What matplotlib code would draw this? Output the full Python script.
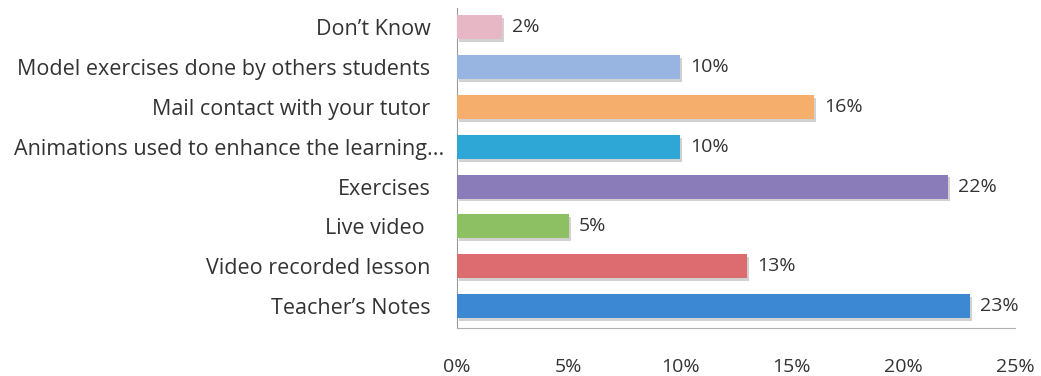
import matplotlib
matplotlib.use("Agg")
import matplotlib.pyplot as plt
import matplotlib.patheffects as pe
import matplotlib.transforms as mtransforms
from matplotlib.ticker import FuncFormatter

categories = [
    "Don\u2019t Know",
    "Model exercises done by others students",
    "Mail contact with your tutor",
    "Animations used to enhance the learning...",
    "Exercises",
    "Live video ",
    "Video recorded lesson",
    "Teacher\u2019s Notes",
]
values = [2, 10, 16, 10, 22, 5, 13, 23]
colors = ["#E8B7C6", "#98B5E2", "#F6AE6C", "#2EA7D6",
          "#8A7BB9", "#8DC062", "#DC6C70", "#3D88D2"]
xticks = [0, 5, 10, 15, 20, 25]

plt.rcParams["font.family"] = ["Open Sans", "DejaVu Sans"]
TXT = "#333333"
FS = 14

fig = plt.figure(figsize=(10.41, 3.76), dpi=100)
ax = fig.add_axes([0.439, 0.128, 0.536, 0.852])

ypos = list(range(len(categories)))
bars = ax.barh(ypos, values, height=0.6, color=colors, zorder=3)
for b in bars:
    b.set_path_effects([
        pe.SimplePatchShadow(offset=(1.5, -2), shadow_rgbFace="#9a9a9a", alpha=0.45),
        pe.Normal(),
    ])

for y, v in zip(ypos, values):
    ax.text(v + 0.45, y, f"{v}%", va="center", ha="left",
            fontsize=FS, color=TXT)

ax.set_xlim(0, 25)
ax.set_ylim(len(categories) - 0.45, -0.5)
ax.set_yticks(ypos)
ax.set_yticklabels(categories, fontsize=15.5, color=TXT)
ax.set_xticks(xticks)
ax.xaxis.set_major_formatter(FuncFormatter(lambda v, p: f"{v:.0f}%"))
ax.tick_params(axis="x", length=0, pad=22, labelsize=FS, labelcolor=TXT)
ax.tick_params(axis="y", length=0, pad=19)

# the truncated label sits closer to the axis
lbl = ax.get_yticklabels()[3]
lbl.set_transform(lbl.get_transform() +
                  mtransforms.ScaledTranslation(14 / 100, 0, fig.dpi_scale_trans))

for s in ("top", "right"):
    ax.spines[s].set_visible(False)
ax.spines["left"].set_color("#9a9a9a")
ax.spines["bottom"].set_color("#b0b0b0")
ax.spines["left"].set_linewidth(0.8)
ax.spines["bottom"].set_linewidth(0.8)

fig.savefig("out.png", dpi=100, facecolor="white")
